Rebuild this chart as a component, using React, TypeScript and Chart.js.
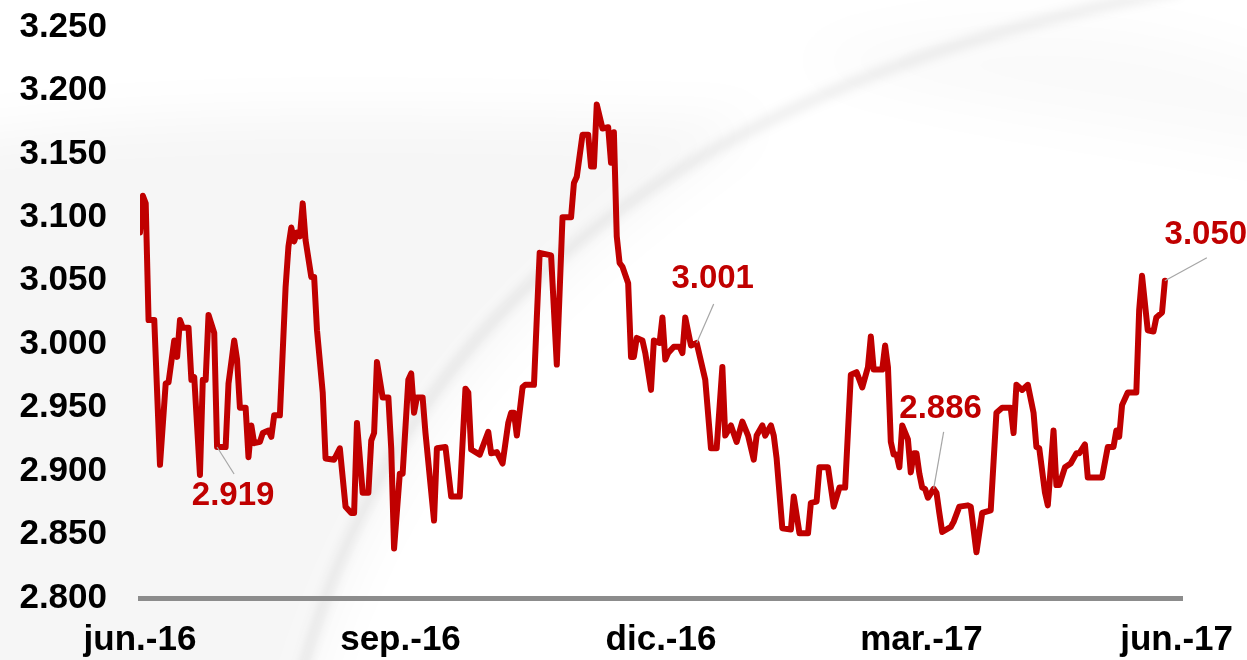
import React, { useEffect, useRef } from "react";
import { Chart, registerables } from "chart.js";

Chart.register(...registerables);

// Day offsets from 1 jun 2016
const days = [
  0, 1, 2, 3, 5, 7, 9, 10, 12, 13,
  14, 15, 17, 18, 19, 21, 22, 23, 24, 26,
  27, 30, 31, 33, 34, 35, 37, 38, 39, 40,
  42, 43, 45, 46, 47, 49, 51, 52, 53, 54,
  55, 56, 57, 58, 60, 61, 62, 64, 65, 68,
  70, 72, 74, 75, 76, 78, 80, 81, 82, 83,
  85, 87, 88, 89, 91, 92, 94, 95, 96, 97,
  99, 100, 103, 104, 107, 109, 112, 114, 115, 116,
  119, 122, 123, 125, 127, 129, 130, 131, 132, 134,
  135, 138, 139, 140, 144, 146, 148, 151, 152, 153,
  155, 157, 158, 159, 160, 162, 164, 165, 166, 167,
  168, 169, 171, 172, 173, 174, 176, 177, 179, 180,
  182, 183, 184, 185, 187, 189, 190, 191, 193, 195,
  198, 200, 202, 204, 205, 207, 209, 211, 213, 215,
  216, 218, 219, 221, 222, 223, 225, 228, 229, 231,
  234, 235, 237, 238, 241, 243, 245, 247, 249, 251,
  253, 255, 256, 257, 260, 261, 262, 263, 264, 265,
  266, 267, 269, 270, 271, 272, 273, 274, 275, 276,
  278, 279, 280, 281, 284, 285, 287, 290, 291, 293,
  295, 298, 300, 302, 305, 306, 307, 309, 311, 313,
  314, 315, 317, 318, 320, 321, 322, 324, 326, 328,
  329, 331, 332, 337, 339, 341, 342, 343, 344, 346,
  349, 350, 351, 353, 355, 356, 358, 359,
];

const rates = [
  3088, 3117, 3111, 3019, 3019, 2905, 2969, 2970, 3003, 2990,
  3019, 3013, 3013, 2972, 2974, 2897, 2972, 2972, 3023, 3009,
  2919, 2919, 2969, 3003, 2988, 2950, 2950, 2911, 2936, 2922,
  2923, 2930, 2932, 2927, 2944, 2944, 3045, 3077, 3092, 3081,
  3088, 3085, 3111, 3082, 3053, 3053, 3011, 2962, 2910, 2909,
  2918, 2872, 2867, 2867, 2938, 2883, 2883, 2924, 2930, 2986,
  2958, 2958, 2918, 2839, 2898, 2898, 2972, 2977, 2946, 2958,
  2958, 2930, 2861, 2918, 2919, 2880, 2880, 2965, 2962, 2917,
  2913, 2931, 2914, 2915, 2906, 2938, 2946, 2946, 2928, 2966,
  2968, 2968, 3021, 3072, 3070, 2984, 3100, 3100, 3127, 3132,
  3165, 3165, 3140, 3140, 3189, 3170, 3171, 3143, 3167, 3085,
  3064, 3061, 3048, 2990, 2990, 3005, 3003, 2993, 2964, 3003,
  3001, 3021, 2988, 2993, 2998, 2998, 2993, 3021, 2999, 3001,
  2972, 2918, 2918, 2982, 2928, 2936, 2923, 2939, 2928, 2909,
  2928, 2936, 2928, 2936, 2928, 2910, 2855, 2854, 2880, 2851,
  2851, 2875, 2876, 2903, 2903, 2872, 2887, 2887, 2976, 2978,
  2966, 2982, 3006, 2980, 2980, 2999, 2982, 2923, 2913, 2913,
  2903, 2936, 2925, 2899, 2914, 2914, 2898, 2887, 2886, 2879,
  2886, 2883, 2867, 2852, 2856, 2860, 2872, 2873, 2872, 2836,
  2867, 2869, 2946, 2950, 2950, 2930, 2968, 2964, 2968, 2946,
  2919, 2918, 2883, 2873, 2932, 2889, 2889, 2903, 2906, 2914,
  2914, 2921, 2895, 2895, 2919, 2919, 2932, 2927, 2952, 2962,
  2962, 3027, 3054, 3011, 3010, 3021, 3025, 3050,
];

const xTickDays = [0, 91.25, 182.5, 273.75, 365];
const xTickLabels = ["jun.-16", "sep.-16", "dic.-16", "mar.-17", "jun.-17"];

const yMin = 2800;
const yMax = 3250;
const yStep = 50;

// annotated points (days)
const annotationDays = [27, 195, 278, 359];
// layout of the callouts: [leaderDx, leaderDy, labelDx, labelDy]
const annotationLayout = [
  [17, 27, 16, 49],
  [17, -39, 16, -64],
  [10, -57, 7, -80],
  [42, -23, 41, -46],
];

const FONT = '"Liberation Sans", Arial, Helvetica, sans-serif';
const RED = "#C00000";

const fmt = (v: number) => {
  const n = Math.round(v);
  return Math.floor(n / 1000) + "." + String(n % 1000).padStart(3, "0");
};

const backgroundPlugin = {
  id: "bgSwoosh",
  beforeDraw(chart: any) {
    const ctx = chart.ctx as CanvasRenderingContext2D;
    const w = chart.width;
    const h = chart.height;
    ctx.save();
    ctx.fillStyle = "#ffffff";
    ctx.fillRect(0, 0, w, h);
    ctx.filter = "blur(25px)";
    // left soft gray region
    ctx.fillStyle = "rgba(0,0,0,0.035)";
    ctx.beginPath();
    ctx.moveTo(-60, 140);
    ctx.bezierCurveTo(200, 100, 500, 120, 760, 120);
    ctx.bezierCurveTo(560, 260, 380, 420, 300, 720);
    ctx.lineTo(-60, 720);
    ctx.closePath();
    ctx.fill();
    // faint region top-right
    ctx.fillStyle = "rgba(0,0,0,0.02)";
    ctx.beginPath();
    ctx.moveTo(800, 60);
    ctx.bezierCurveTo(1000, 0, 1150, 20, 1300, 80);
    ctx.lineTo(1300, 160);
    ctx.bezierCurveTo(1100, 120, 950, 110, 800, 60);
    ctx.closePath();
    ctx.fill();
    // swoosh line
    ctx.filter = "blur(5px)";
    ctx.strokeStyle = "rgba(0,0,0,0.06)";
    ctx.lineWidth = 12;
    ctx.beginPath();
    ctx.moveTo(300, 680);
    ctx.bezierCurveTo(400, 300, 700, 80, 1180, -10);
    ctx.stroke();
    ctx.restore();
  },
};

const labelsPlugin = {
  id: "customLabels",
  afterDraw(chart: any) {
    const ctx = chart.ctx as CanvasRenderingContext2D;
    const xs = chart.scales.x;
    const ys = chart.scales.y;
    ctx.save();
    // x-axis labels
    ctx.font = `bold 35px ${FONT}`;
    ctx.fillStyle = "#000000";
    ctx.textBaseline = "alphabetic";
    ctx.textAlign = "left";
    xTickDays.forEach((d, i) => {
      const txt = xTickLabels[i];
      const wTxt = ctx.measureText(txt).width;
      let left = xs.getPixelForValue(d) - wTxt / 2;
      if (left + wTxt > chart.width - 14) left = chart.width - 14 - wTxt;
      ctx.fillText(txt, left, ys.bottom + 52);
    });
    // callouts
    annotationDays.forEach((d, i) => {
      const idx = days.indexOf(d);
      const v = rates[idx];
      const px = xs.getPixelForValue(d);
      const py = ys.getPixelForValue(v);
      const [ldx, ldy, tdx, tdy] = annotationLayout[i];
      ctx.strokeStyle = "#a6a6a6";
      ctx.lineWidth = 1.2;
      ctx.beginPath();
      ctx.moveTo(px, py);
      ctx.lineTo(px + ldx, py + ldy);
      ctx.stroke();
      ctx.font = `bold 33px ${FONT}`;
      ctx.fillStyle = RED;
      ctx.textAlign = "center";
      ctx.textBaseline = "middle";
      ctx.fillText(fmt(v), px + tdx, py + tdy);
    });
    ctx.restore();
  },
};

export default function App() {
  const ref = useRef<HTMLCanvasElement | null>(null);

  useEffect(() => {
    if (!ref.current) return;
    const chart = new Chart(ref.current, {
      type: "line",
      data: {
        datasets: [
          {
            data: days.map((d, i) => ({ x: d, y: rates[i] })),
            borderColor: RED,
            borderWidth: 6,
            pointRadius: 0,
            tension: 0,
            fill: false,
            borderJoinStyle: "round",
            borderCapStyle: "round",
          },
        ],
      },
      options: {
        animation: false,
        responsive: false,
        maintainAspectRatio: false,
        devicePixelRatio: 1,
        layout: { padding: { top: 27, right: 65, left: 0, bottom: 0 } },
        plugins: {
          legend: { display: false },
          tooltip: { enabled: false },
        },
        scales: {
          x: {
            type: "linear",
            min: 0,
            max: 365,
            grid: { display: false, drawTicks: false },
            border: { display: true, color: "#8c8c8c", width: 5 },
            ticks: { display: false },
            afterFit: (s: any) => {
              s.height = 62;
              s.paddingLeft = 0;
              s.paddingRight = 0;
              s.paddingTop = 0;
              s.paddingBottom = 0;
            },
          },
          y: {
            min: yMin,
            max: yMax,
            grid: { display: false, drawTicks: false },
            border: { display: false },
            ticks: {
              stepSize: yStep,
              padding: 33,
              color: "#000000",
              font: { family: FONT, size: 35, weight: "bold" },
              callback: (v: any) => fmt(Number(v)),
            },
            afterFit: (s: any) => {
              s.width = 140;
              s.paddingTop = 0;
              s.paddingBottom = 0;
              s.paddingLeft = 0;
              s.paddingRight = 0;
            },
          },
        },
      } as any,
      plugins: [backgroundPlugin, labelsPlugin],
    });
    return () => chart.destroy();
  }, []);

  return (
    <div style={{ position: "absolute", left: 0, top: 0, width: 1247, height: 660 }}>
      <canvas ref={ref} width={1247} height={660} style={{ display: "block" }} />
    </div>
  );
}
